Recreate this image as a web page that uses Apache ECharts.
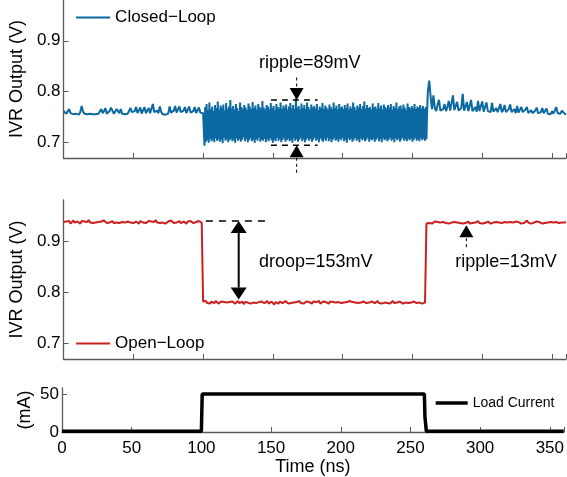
<!DOCTYPE html>
<html>
<head>
<meta charset="utf-8">
<script src="https://cdn.jsdelivr.net/npm/echarts@6/dist/echarts.min.js"></script>
<style>
  html, body { margin: 0; padding: 0; background: #fff; }
  #chart { width: 567px; height: 477px; }
</style>
</head>
<body>
<div id="chart"></div>
<script>
// ---- Time axis ----
const timeTicks = [0, 50, 100, 150, 200, 250, 300, 350];
const voltTicks = [0.7, 0.8, 0.9];
const currentTicks = [0, 50];

// ---- Closed-loop IVR output (mV), three sampled segments ----
// 0 .. 100 ns, 1 ns per sample
const closedPreStart = 0, closedPreStep = 1;
const closedPre = [
  762,760,757,759,766,758,755,756,754,757,756,755,760,772,761,757,755,756,754,757,
  755,756,754,756,755,757,756,766,758,762,768,757,756,762,769,767,757,761,766,768,
  758,766,757,755,756,754,757,756,768,760,757,762,770,758,761,769,757,759,770,758,
  756,768,758,757,776,760,757,763,758,771,760,756,757,755,756,757,771,759,757,763,
  772,759,758,771,760,757,763,770,758,757,771,759,757,762,770,758,756,769,759,757,
  758
];
// 101 .. 260.5 ns under load, 0.5 ns per sample
const closedLoadStart = 101, closedLoadStep = 0.5;
const closedLoad = [
  694,770,702,776,705,764,700,779,708,766,703,771,706,762,701,774,709,768,704,781,
  707,765,702,773,706,769,699,775,710,763,704,778,707,766,701,771,705,784,708,767,
  703,772,706,765,700,776,709,768,704,762,707,779,702,770,706,766,711,774,703,769,
  708,764,701,777,705,771,709,766,703,780,706,768,700,773,707,765,704,776,710,770,
  702,767,706,782,704,769,708,765,701,774,707,771,703,766,709,778,705,768,700,772,
  706,764,703,776,710,770,704,767,707,779,701,766,706,773,709,769,702,775,705,765,
  708,771,703,778,706,767,700,774,709,766,704,787,707,769,702,772,706,765,710,777,
  703,768,707,774,701,766,706,779,709,770,704,765,708,775,702,769,706,772,710,767,
  704,776,707,764,701,771,709,768,705,778,702,766,708,773,704,769,710,765,703,775,
  707,770,701,766,706,779,709,768,704,773,707,765,702,776,708,769,705,771,710,766,
  703,774,706,768,700,777,709,765,705,771,708,767,702,779,706,770,710,764,704,773,
  707,769,701,776,709,766,705,772,708,781,703,767,706,774,710,768,702,770,707,765,
  705,777,708,769,702,771,706,766,710,778,703,768,707,773,701,765,709,775,705,770,
  708,767,703,774,706,769,710,776,704,765,707,772,701,768,709,779,705,766,708,771,
  702,773,706,766,710,775,704,769,707,764,703,777,708,770,705,767,709,772,702,768,
  706,776,710,766,704,771,707,769,703,774,709,767,705,772,708,766,704,770,707,760
];
// 261 .. 360 ns after load release, 1 ns per sample
const closedRelStart = 261, closedRelStep = 1;
const closedRel = [
  800,822,790,766,793,768,762,775,784,763,760,766,776,762,770,782,763,761,793,764,
  762,780,763,761,768,796,763,760,780,762,765,784,762,760,770,761,782,762,772,781,
  761,760,779,762,765,760,778,761,759,768,760,762,776,760,764,774,760,759,766,775,
  760,758,766,758,772,759,757,770,760,758,765,770,758,757,764,758,757,763,769,758,
  757,760,768,758,756,767,757,759,756,762,757,756,770,758,756,757,763,766,757,755
];

// ---- Open-loop IVR output (mV), 0 .. 360 ns, 1 ns per sample ----
const openStart = 0, openStep = 1;
const openLoop = [
  937,935,938,936,939,934,937,940,936,935,938,937,934,939,936,938,935,937,941,936,
  938,935,937,936,939,937,934,938,936,940,937,935,938,936,937,939,935,938,936,937,
  935,938,937,940,936,934,938,937,936,939,935,937,938,936,934,939,937,936,938,935,
  937,939,936,938,935,937,941,936,938,935,937,936,939,934,937,938,936,940,937,935,
  938,936,937,939,935,937,938,936,934,938,937,939,936,935,938,937,936,939,937,936,
  782,780,783,779,781,778,782,780,779,783,781,778,780,782,779,781,784,780,778,781,
  779,782,780,778,781,783,779,780,782,777,781,779,780,783,778,781,780,782,779,780,
  781,778,782,780,779,781,783,778,780,782,779,776,781,780,778,782,780,779,781,783,
  780,778,781,779,782,780,777,781,780,783,779,781,778,780,782,779,781,780,778,782,
  779,781,780,783,778,780,782,779,781,780,778,782,779,781,783,780,778,781,780,779,
  782,780,778,781,779,783,780,781,778,780,782,779,781,780,777,782,780,779,781,780,
  778,782,780,779,781,783,779,780,778,781,780,782,779,781,778,780,783,779,781,780,
  779,782,780,778,781,780,783,779,781,780,778,782,780,779,781,780,782,778,781,780,
  934,936,935,937,934,936,938,935,937,934,936,935,937,939,935,936,934,937,936,935,
  937,934,936,938,935,936,934,937,935,936,938,934,936,935,937,936,934,939,935,936,
  934,937,935,936,938,935,934,937,936,935,937,934,936,938,935,936,937,934,936,935,
  937,935,936,934,938,935,937,936,934,936,935,937,940,936,935,934,937,936,935,938,
  935,937,936,934,936,935,938,936,935,937,934,936,935,937,936,935,938,936,934,936,
  937
];

// ---- Load current step (ns, mA) ----
const loadTime = [0, 100, 100.6, 260, 260.4, 261.4, 360];
const loadMA   = [1, 1, 50, 50, 20, 1, 1];

// ---- Annotation values ----
const rippleClosedMV = 89;     // closed-loop ripple under load
const rippleClosedTop = 0.784;
const rippleClosedAt = 167;
const rippleClosedSpan = [148.6, 182];
const droopMV = 153;           // open-loop droop under load
const droopTop = 0.939;
const droopAt = 125.5;
const droopSpan = [102, 146];
const rippleOpenMV = 13;       // open-loop ripple after release
const rippleOpenAt = 288.6;
const rippleOpenTip = 0.931;

const FONT = '"Liberation Sans", Arial, Helvetica, sans-serif';
const AXIS = '#5a5a5a';

function seg(start, step, mv, out) {
  mv.forEach((v, i) => out.push([start + i * step, v / 1000]));
  return out;
}
const closedData = [];
seg(closedPreStart, closedPreStep, closedPre, closedData);
seg(closedLoadStart, closedLoadStep, closedLoad, closedData);
seg(closedRelStart, closedRelStep, closedRel, closedData);
const openData = seg(openStart, openStep, openLoop, []);
const loadData = loadTime.map((t, i) => [t, loadMA[i]]);

function xAxis(gridIndex, showLabels) {
  return {
    type: 'value', gridIndex, min: 0, max: 360, interval: 50,
    axisLine: { show: true, lineStyle: { color: AXIS, width: 1.3 } },
    axisTick: { show: true, inside: true, length: 5, lineStyle: { color: AXIS, width: 1 } },
    axisLabel: {
      show: showLabels, color: '#000', fontFamily: FONT, fontSize: 17, margin: 8,
      customValues: timeTicks
    },
    splitLine: { show: false },
    name: showLabels ? 'Time (ns)' : '', nameLocation: 'middle', nameGap: 25,
    nameTextStyle: { color: '#000', fontFamily: FONT, fontSize: 18 }
  };
}
function yAxis(gridIndex, min, max, ticks, name, nameGap, digits, moveOverlap) {
  return {
    type: 'value', gridIndex, min, max,
    axisLine: { show: true, lineStyle: { color: AXIS, width: 1.3 } },
    axisTick: { show: true, inside: true, length: 5, customValues: ticks, lineStyle: { color: AXIS, width: 1 } },
    axisLabel: {
      color: '#000', fontFamily: FONT, fontSize: 17, margin: 3, customValues: ticks,
      formatter: v => v.toFixed(digits)
    },
    splitLine: { show: false },
    name, nameLocation: 'middle', nameGap, nameMoveOverlap: moveOverlap,
    nameTextStyle: { color: '#000', fontFamily: FONT, fontSize: 18 }
  };
}

// legend entries show only the line stroke
function legend(name, left, top, width, fontSize, lineWidth) {
  return {
    data: [name], left, top, padding: 0, itemWidth: width, itemHeight: 14,
    itemStyle: { opacity: 0 },
    lineStyle: { width: lineWidth },
    textStyle: { color: '#000', fontFamily: FONT, fontSize }
  };
}

const chart = echarts.init(document.getElementById('chart'));
chart.setOption({
  animation: false,
  backgroundColor: '#fff',
  grid: [
    { left: 62, right: 1, top: -2, height: 160 },
    { left: 62, right: 1, top: 200, height: 159 },
    { left: 62, right: 1, top: 388, height: 44 }
  ],
  xAxis: [xAxis(0, false), xAxis(1, false), xAxis(2, true)],
  yAxis: [
    yAxis(0, 0.67, 0.98, voltTicks, 'IVR Output (V)', 36, 1, true),
    yAxis(1, 0.67, 0.98, voltTicks, 'IVR Output (V)', 36, 1, true),
    yAxis(2, 0, 58, currentTicks, '(mA)', 28, 0, false)
  ],
  legend: [
    legend('Closed\u2212Loop', 75, 9, 34, 17, 2.2),
    legend('Open\u2212Loop', 75, 335, 34, 17, 2.2),
    legend('Load Current', 434, 396, 32, 14, 3.3)
  ],
  series: [
    { name: 'Closed\u2212Loop', type: 'line', xAxisIndex: 0, yAxisIndex: 0, data: closedData,
      symbol: 'none', color: '#0b68a1', lineStyle: { width: 2 } },
    { name: 'Open\u2212Loop', type: 'line', xAxisIndex: 1, yAxisIndex: 1, data: openData,
      symbol: 'none', color: '#cc1f1f', lineStyle: { width: 2 } },
    { name: 'Load Current', type: 'line', xAxisIndex: 2, yAxisIndex: 2, data: loadData,
      symbol: 'none', color: '#000', lineStyle: { width: 3.5 } }
  ]
});

// ---- Annotations placed through the grids' own scales ----
const px = (g, x, y) => chart.convertToPixel({ gridIndex: g }, [x, y]);
const elems = [];
function hLine(g, span, y, dash) {
  const a = px(g, span[0], y), b = px(g, span[1], y);
  elems.push({ type: 'line', silent: true, z: 100,
    shape: { x1: a[0], y1: a[1], x2: b[0], y2: b[1] },
    style: { stroke: '#000', lineWidth: 1.5, lineDash: dash } });
}
function head(tip, from, len, wid) {
  const dx = tip[0] - from[0], dy = tip[1] - from[1];
  const d = Math.hypot(dx, dy), ux = dx / d, uy = dy / d;
  const bx = tip[0] - ux * len, by = tip[1] - uy * len;
  elems.push({ type: 'polygon', silent: true, z: 101,
    shape: { points: [[tip[0], tip[1]], [bx - uy * wid / 2, by + ux * wid / 2], [bx + uy * wid / 2, by - ux * wid / 2]] },
    style: { fill: '#000' } });
  return [bx, by];
}
function arrow(g, x, yFrom, yTo, dashed) {
  const a = px(g, x, yFrom), b = px(g, x, yTo);
  const base = head(b, a, 12, 14);
  elems.push({ type: 'line', silent: true, z: 100,
    shape: { x1: a[0], y1: a[1], x2: base[0], y2: base[1] },
    style: { stroke: '#000', lineWidth: dashed ? 1 : 2, lineDash: dashed ? [3, 3] : null } });
}
function doubleArrow(g, x, y1, y2) {
  const a = px(g, x, y1), b = px(g, x, y2);
  const ba = head(a, b, 12, 16), bb = head(b, a, 12, 16);
  elems.push({ type: 'line', silent: true, z: 100,
    shape: { x1: ba[0], y1: ba[1], x2: bb[0], y2: bb[1] },
    style: { stroke: '#000', lineWidth: 2 } });
}
function label(g, x, y, text, align) {
  const p = px(g, x, y);
  elems.push({ type: 'text', silent: true, z: 102, x: p[0], y: p[1],
    style: { text, fill: '#000', font: '18px ' + FONT, align, verticalAlign: 'middle' } });
}

// closed-loop ripple band
const rippleClosedBottom = rippleClosedTop - rippleClosedMV / 1000;
hLine(0, rippleClosedSpan, rippleClosedTop, [6, 5]);
hLine(0, rippleClosedSpan, rippleClosedBottom, [6, 5]);
arrow(0, rippleClosedAt, 0.828, rippleClosedTop, true);
arrow(0, rippleClosedAt, 0.641, rippleClosedBottom, true);
label(0, 176.4, 0.857, 'ripple=' + rippleClosedMV + 'mV', 'center');

// open-loop droop
const droopBottom = droopTop - droopMV / 1000;
hLine(1, droopSpan, droopTop, [7, 6]);
doubleArrow(1, droopAt, droopTop, droopBottom);
label(1, 140, 0.859, 'droop=' + droopMV + 'mV', 'left');

// open-loop ripple
arrow(1, rippleOpenAt, 0.888, rippleOpenTip, true);
label(1, 317, 0.859, 'ripple=' + rippleOpenMV + 'mV', 'center');

chart.setOption({ graphic: elems });
</script>
</body>
</html>
